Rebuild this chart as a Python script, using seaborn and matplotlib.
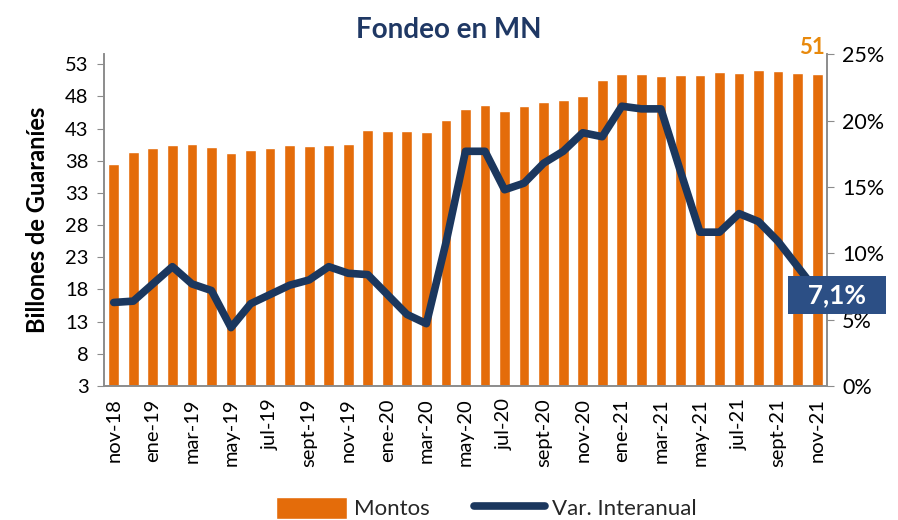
import numpy as np
import pandas as pd
import matplotlib
matplotlib.use("Agg")
import matplotlib.pyplot as plt
import seaborn as sns

meses = ["nov-18", "dic-18", "ene-19", "feb-19", "mar-19", "abr-19", "may-19", "jun-19",
         "jul-19", "ago-19", "sept-19", "oct-19", "nov-19", "dic-19", "ene-20", "feb-20",
         "mar-20", "abr-20", "may-20", "jun-20", "jul-20", "ago-20", "sept-20", "oct-20",
         "nov-20", "dic-20", "ene-21", "feb-21", "mar-21", "abr-21", "may-21", "jun-21",
         "jul-21", "ago-21", "sept-21", "oct-21", "nov-21"]

# billones de guaranies
montos = [37.5, 39.4, 39.9, 40.5, 40.6, 40.2, 39.2, 39.7, 39.9, 40.4, 40.35, 40.45, 40.6,
          42.7, 42.6, 42.6, 42.4, 44.3, 46.0, 46.6, 45.7, 46.5, 47.1, 47.5, 48.1, 50.5,
          51.4, 51.4, 51.1, 51.3, 51.3, 51.85, 51.6, 52.1, 52.0, 51.6, 51.5]

# variacion interanual (%)
var_ia = [6.3, 6.4, 7.7, 9.0, 7.7, 7.2, 4.4, 6.2, 6.9, 7.6, 8.0, 9.0, 8.5, 8.4, 6.9, 5.4,
          4.7, 10.8, 17.7, 17.7, 14.8, 15.3, 16.8, 17.7, 19.1, 18.8, 21.1, 20.9, 20.9,
          16.2, 11.6, 11.6, 13.0, 12.4, 10.9, 9.0, 7.1]

left_ticks = [3, 8, 13, 18, 23, 28, 33, 38, 43, 48, 53]
right_ticks = [0, 0.05, 0.10, 0.15, 0.20, 0.25]

naranja = "#E46C0A"
azul = "#1B375E"
gris = "#8C8C8C"
fuente = ["Lato", "DejaVu Sans"]

sns.set_style("white")
plt.rcParams["font.family"] = fuente

df = pd.DataFrame({"mes": meses, "montos": montos,
                   "var": np.array(var_ia) / 100, "pos": np.arange(len(meses))})

fig = plt.figure(figsize=(8.98, 5.2), dpi=100)
ax = fig.add_axes([0.1158, 0.2577, 0.8051, 0.6375])

sns.barplot(data=df, x="mes", y="montos", color=naranja, saturation=1, width=0.55,
            ax=ax, label="Montos")
ax.set_ylim(3, 54.5)
ax.set_yticks(left_ticks)
ax.set_yticklabels([str(t) for t in left_ticks], fontsize=14.5, color="black")
ax.set_ylabel("Billones de Guaraníes", fontsize=17, fontweight="bold", labelpad=12,
              color="black")
ax.set_xlabel("")
ax.set_xlim(-0.5, len(meses) - 0.5)

# etiquetas cada dos meses, marcas entre categorias
ax.set_xticks(df["pos"][::2])
ax.set_xticklabels(df["mes"][::2], rotation=90, fontsize=14.5, color="black")
ax.set_xticks(np.arange(-0.5, len(meses) - 1, 2), minor=True)
ax.tick_params(axis="x", which="major", length=0, pad=9)
ax.tick_params(axis="x", which="minor", length=6, color=gris, width=1, direction="out")
ax.tick_params(axis="y", length=5, color=gris, direction="out", left=True, pad=6)

ax2 = ax.twinx()
sns.lineplot(data=df, x="pos", y="var", color=azul, linewidth=5.5, ax=ax2,
             label="Var. Interanual", legend=False)
ax2.set_ylim(0, 0.25)
ax2.set_yticks(right_ticks)
ax2.set_yticklabels([f"{int(round(t * 100))}%" for t in right_ticks], fontsize=15.5,
                    color="black")
ax2.set_ylabel("")
ax2.set_xlim(-0.5, len(meses) - 0.5)
ax2.tick_params(axis="y", length=5, color=gris, direction="out", right=True, pad=6)

for a in (ax, ax2):
    a.spines["top"].set_visible(False)
    for s in ("left", "right", "bottom"):
        a.spines[s].set_color(gris)
        a.spines[s].set_linewidth(1.2)

# dato final resaltado
ax2.text(1.014, 0.2745, f"  {var_ia[-1]:.1f}%  ".replace(".", ","), transform=ax2.transAxes,
         ha="center", va="center", color="white", fontsize=19, fontweight="bold",
         bbox=dict(boxstyle="square,pad=0.28", facecolor="#2C4F85", edgecolor="none"),
         zorder=10)
fig.text(812 / 898, 1 - 47 / 520, f"{int(montos[-1])}", color="#E8890C", fontsize=16,
         fontweight="bold", ha="center", va="center")

fig.suptitle("Fondeo en MN", x=0.5, y=0.968, fontsize=20, fontweight="bold",
             color="#1F3864")

h1, l1 = ax.get_legend_handles_labels()
h2, l2 = ax2.get_legend_handles_labels()
ax.legend(h1 + h2, l1 + l2, loc="center", bbox_to_anchor=(486 / 898, 1 - 508 / 520),
          bbox_transform=fig.transFigure, ncol=2, frameon=False, fontsize=16,
          handlelength=3.2, handleheight=1.2, columnspacing=2.0, handletextpad=0.3)

fig.savefig("out.png", dpi=100)
